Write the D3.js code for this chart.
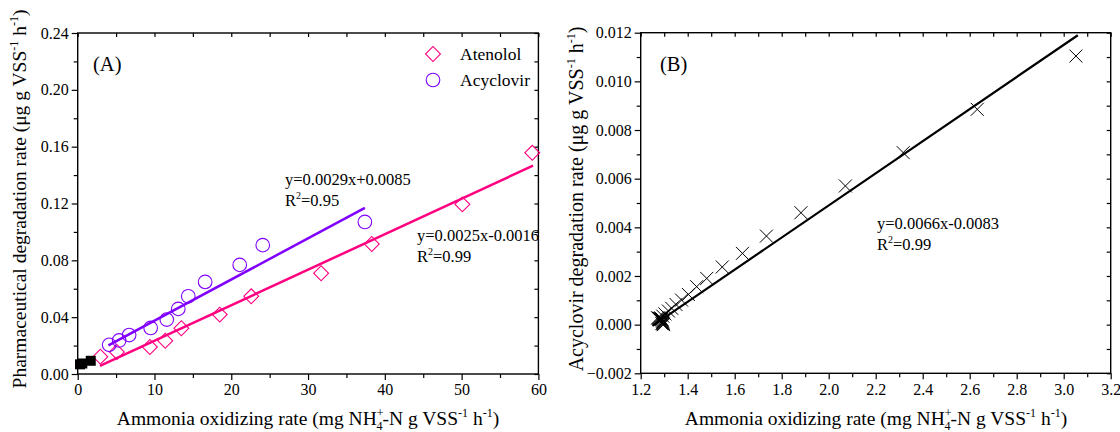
<!DOCTYPE html>
<html>
<head>
<meta charset="utf-8">
<script src="https://unpkg.com/d3@7/dist/d3.min.js"></script>
<style>
  body { margin: 0; background: #fff; }
  svg text { font-family: "Liberation Serif", "Times New Roman", serif; fill: #000; }
</style>
</head>
<body>
<svg width="1120" height="432" font-family="Liberation Serif"></svg>
<script>
// ---- panel A data ----
const atenololX = [2.95, 5.1, 9.4, 11.4, 13.5, 18.5, 22.6, 31.7, 38.3, 50.1, 59.2];
const atenololY = [0.0122, 0.0155, 0.019, 0.0234, 0.0322, 0.0418, 0.0547, 0.0709, 0.0915, 0.1194, 0.1557];
const acyclovirX = [4.1, 5.4, 6.7, 9.5, 11.6, 13.1, 14.4, 16.6, 21.1, 24.1, 37.4];
const acyclovirY = [0.0205, 0.0236, 0.0274, 0.0324, 0.0383, 0.0458, 0.0547, 0.0648, 0.0768, 0.0907, 0.107];
const controlX = [0.3, 0.6, 1.7];
const controlY = [0.0068, 0.0074, 0.0093];
// fitted lines: [slope, intercept, xStart, xEnd]
const atenololFit = [0.0025, -0.0016, 2.9, 59.3];
const acyclovirFit = [0.0029, 0.0085, 4.0, 37.4];
const xTicksA = [0, 10, 20, 30, 40, 50, 60];
const yTicksA = [0.00, 0.04, 0.08, 0.12, 0.16, 0.20, 0.24];

// ---- panel B data ----
const bX = [3.052, 2.632, 2.317, 2.071, 1.882, 1.735, 1.633, 1.547, 1.481, 1.438, 1.403, 1.374, 1.350, 1.332, 1.318, 1.303, 1.294, 1.285,
            1.272, 1.275, 1.278, 1.281, 1.284, 1.287, 1.290, 1.292, 1.293, 1.294, 1.295, 1.296, 1.297, 1.290];
const bY = [0.01104, 0.00885, 0.00707, 0.0057, 0.0046, 0.00364, 0.00293, 0.00237, 0.0019, 0.00156, 0.00124, 0.00101, 0.00083, 0.00067, 0.00056, 0.00044, 0.00035, 0.00028,
            0.00028, 0.00027, 0.00026, 0.00025, 0.00024, 0.00023, 0.00022, 0.00018, 0.00014, 0.0001, 0.00006, 0.00003, 0.0000, 0.00004];
const bFit = [0.0066, -0.0083, 1.25, 3.06];
const xTicksB = [1.2, 1.4, 1.6, 1.8, 2.0, 2.2, 2.4, 2.6, 2.8, 3.0, 3.2];
const yTicksB = [-0.002, 0.000, 0.002, 0.004, 0.006, 0.008, 0.010, 0.012];

const PINK = '#ff0080', VIOLET = '#8000ff';
const svg = d3.select('svg');

// draws frame, ticks (outer on left/bottom, inner on top/right) and tick labels
const drawFrame = (g, x, y, xMajor, xMinor, yMajor, yMinor, xFmt, yFmt) => {
    const [x0, x1] = x.range(), [y0, y1] = y.range();
    const tickStyle = s => {
        s.attr('font-family', null).attr('font-size', null);
        s.select('.domain').remove();
        s.selectAll('line').attr('stroke', '#000').attr('stroke-width', 1.2);
        s.selectAll('text').style('font-size', '16px');
    };
    g.append('g').attr('transform', `translate(0,${y0})`)
        .call(d3.axisBottom(x).tickValues(xMajor).tickFormat(xFmt).tickSize(6).tickPadding(4)).call(tickStyle);
    g.append('g').attr('transform', `translate(0,${y0})`)
        .call(d3.axisBottom(x).tickValues(xMinor).tickFormat('').tickSize(4)).call(tickStyle);
    g.append('g').attr('transform', `translate(${x0},0)`)
        .call(d3.axisLeft(y).tickValues(yMajor).tickFormat(yFmt).tickSize(6).tickPadding(3)).call(tickStyle);
    g.append('g').attr('transform', `translate(${x0},0)`)
        .call(d3.axisLeft(y).tickValues(yMinor).tickFormat('').tickSize(4)).call(tickStyle);
    g.append('g').attr('transform', `translate(0,${y1})`)
        .call(d3.axisTop(x).tickValues(xMajor.concat(xMinor)).tickFormat('').tickSize(-4)).call(tickStyle);
    g.append('g').attr('transform', `translate(${x1},0)`)
        .call(d3.axisRight(y).tickValues(yMajor.concat(yMinor)).tickFormat('').tickSize(-4)).call(tickStyle);
    g.append('rect').attr('x', x0).attr('y', y1).attr('width', x1 - x0).attr('height', y0 - y1)
        .attr('fill', 'none').attr('stroke', '#000').attr('stroke-width', 1.4);
};

const fitLine = (g, x, y, fit, color, width) => {
    const [m, b, xa, xb] = fit;
    g.append('line')
        .attr('x1', x(xa)).attr('y1', y(m * xa + b))
        .attr('x2', x(xb)).attr('y2', y(m * xb + b))
        .attr('stroke', color).attr('stroke-width', width);
};

// x axis title with NH4+ stacked sub/superscript
const xTitle = (g, cx, yBase) => {
    const t = g.append('text').attr('x', cx).attr('y', yBase).attr('text-anchor', 'middle').style('font-size', '19.5px');
    t.append('tspan').text('Ammonia oxidizing rate (mg NH');
    t.append('tspan').text('+').attr('dy', -8).style('font-size', '12px');
    t.append('tspan').text('4').attr('dx', -7).attr('dy', 13).style('font-size', '12px');
    t.append('tspan').text('-N g VSS').attr('dy', -5);
    t.append('tspan').text('-1').attr('dy', -8).style('font-size', '12px');
    t.append('tspan').text(' h').attr('dy', 8);
    t.append('tspan').text('-1').attr('dy', -8).style('font-size', '12px');
    t.append('tspan').text(')').attr('dy', 8);
};

const yTitle = (g, cx, cy, label, size) => {
    const t = g.append('text').attr('transform', `translate(${cx},${cy}) rotate(-90)`)
        .attr('text-anchor', 'middle').style('font-size', size + 'px');
    t.append('tspan').text(label + ' (μg g VSS');
    t.append('tspan').text('-1').attr('dy', -8).style('font-size', '12px');
    t.append('tspan').text(' h').attr('dy', 8);
    t.append('tspan').text('-1').attr('dy', -8).style('font-size', '12px');
    t.append('tspan').text(')').attr('dy', 8);
};

const eqText = (g, x0, yBase, eq, r2) => {
    g.append('text').attr('x', x0).attr('y', yBase).style('font-size', '16.5px').text(eq);
    const t = g.append('text').attr('x', x0).attr('y', yBase + 21).style('font-size', '16.5px');
    t.append('tspan').text('R');
    t.append('tspan').text('2').attr('dy', -7).style('font-size', '10px');
    t.append('tspan').text('=' + r2).attr('dy', 7);
};

// ================= panel A =================
const xA = d3.scaleLinear().domain([0, 60]).range([77.7, 538.4]);
const yA = d3.scaleLinear().domain([0, 0.24]).range([374, 33]);
const gA = svg.append('g');
drawFrame(gA, xA, yA, xTicksA, d3.range(5, 60, 10), yTicksA, d3.range(0.02, 0.24, 0.04),
          d3.format('d'), d3.format('.2f'));

fitLine(gA, xA, yA, atenololFit, PINK, 2.5);
fitLine(gA, xA, yA, acyclovirFit, VIOLET, 2.5);

const diamond = d3.symbol().type(d3.symbolSquare).size(110);
gA.selectAll('.aten').data(atenololX).join('path').attr('class', 'aten')
    .attr('d', diamond)
    .attr('transform', (d, i) => `translate(${xA(d)},${yA(atenololY[i])}) rotate(45)`)
    .attr('fill', 'none').attr('stroke', PINK).attr('stroke-width', 1.1);
gA.selectAll('.acy').data(acyclovirX).join('circle').attr('class', 'acy')
    .attr('cx', d => xA(d)).attr('cy', (d, i) => yA(acyclovirY[i])).attr('r', 6.8)
    .attr('fill', 'none').attr('stroke', VIOLET).attr('stroke-width', 1.1);
gA.selectAll('.ctrl').data(controlX).join('rect').attr('class', 'ctrl')
    .attr('x', d => xA(d) - 5).attr('y', (d, i) => yA(controlY[i]) - 5)
    .attr('width', 10).attr('height', 10).attr('fill', '#000');

// legend
gA.append('path').attr('d', diamond).attr('transform', 'translate(433,54) rotate(45)')
    .attr('fill', 'none').attr('stroke', PINK).attr('stroke-width', 1.1);
gA.append('text').attr('x', 460).attr('y', 60).style('font-size', '17.5px').text('Atenolol');
gA.append('circle').attr('cx', 433).attr('cy', 80).attr('r', 6.8)
    .attr('fill', 'none').attr('stroke', VIOLET).attr('stroke-width', 1.1);
gA.append('text').attr('x', 460).attr('y', 86).style('font-size', '17.5px').text('Acyclovir');

gA.append('text').attr('x', 93).attr('y', 71).style('font-size', '20.5px').text('(A)');
eqText(gA, 285, 185, 'y=0.0029x+0.0085', '0.95');
eqText(gA, 417, 241, 'y=0.0025x-0.0016', '0.99');
xTitle(gA, 308, 425);
yTitle(gA, 26, 199, 'Pharmaceutical degradation rate', 19.5);

// ================= panel B =================
const xB = d3.scaleLinear().domain([1.2, 3.2]).range([640.7, 1110.7]);
const yB = d3.scaleLinear().domain([-0.002, 0.012]).range([373.3, 32.7]);
const gB = svg.append('g');
drawFrame(gB, xB, yB, xTicksB, d3.range(1.3, 3.2, 0.2), yTicksB, d3.range(-0.001, 0.012, 0.002),
          d3.format('.1f'), d3.format('.3f'));

fitLine(gB, xB, yB, bFit, '#000', 2.2);

gB.selectAll('.bx').data(bX).join('path').attr('class', 'bx')
    .attr('d', () => {
        const s = 6.5;
        return `M${-s},${-s}L${s},${s}M${-s},${s}L${s},${-s}`;
    })
    .attr('transform', (d, i) => `translate(${xB(d)},${yB(bY[i])})`)
    .attr('fill', 'none').attr('stroke', '#000').attr('stroke-width', 1);

gB.append('text').attr('x', 660).attr('y', 71).style('font-size', '20.5px').text('(B)');
eqText(gB, 877, 229, 'y=0.0066x-0.0083', '0.99');
xTitle(gB, 876, 425);
yTitle(gB, 583, 199, 'Acyclovir degradation rate', 20);
</script>
</body>
</html>
